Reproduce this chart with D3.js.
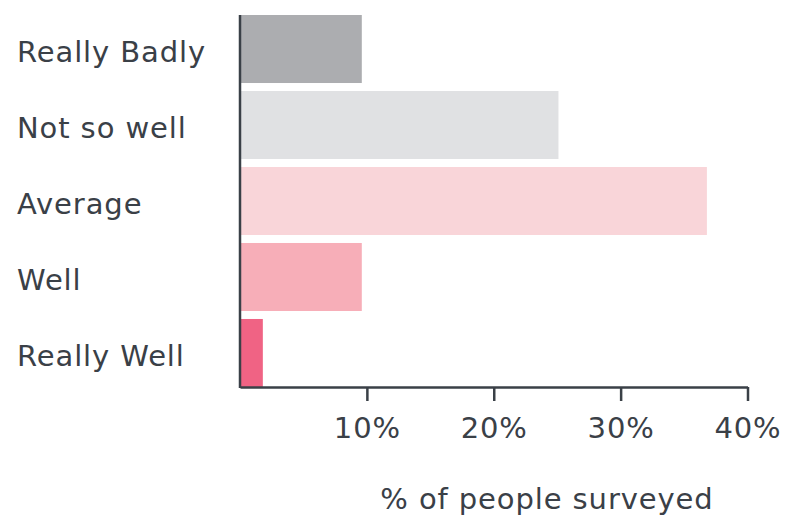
<!DOCTYPE html>
<html lang="en">
<head>
<meta charset="UTF-8">
<title></title>
<script src="https://d3js.org/d3.v7.min.js"></script>
<style>
	body{margin:0;background:#fff;}
	text{font-family:"DejaVu Sans", sans-serif;fill:#3a4047;letter-spacing:0.9px;}
</style>
</head>
<body>
<script>
	let categories=["Really Badly","Not so well","Average","Well","Really Well"];
	let values=[9.6,25.1,36.8,9.6,1.8];
	let colors=["#acadb0","#e0e1e3","#f9d5d9","#f7aeb8","#f06384"];
	let tickValues=[10,20,30,40];
	let axisTitle="% of people surveyed";

	let W=785,H=525;
	let x0=240,x1=747.5,yTop=15,yBot=387;
	let fs=29;
	var svg=d3.select("body").append("svg").attr("width",W).attr("height",H);

	let x=d3.scaleLinear().domain([0,40]).range([x0,x1]);
	let y=d3.scaleBand().domain(categories).range([yTop,yBot]).paddingInner(0.105).paddingOuter(0);

	svg.selectAll(".bar").data(categories).enter()
		.append("rect")
		.attr("class","bar")
		.attr("x",x(0))
		.attr("y",function(d){return y(d);})
		.attr("width",function(d,i){return x(values[i])-x(0);})
		.attr("height",y.bandwidth())
		.style("fill",function(d,i){return colors[i];});

	// category labels, left aligned
	svg.selectAll(".cat").data(categories).enter()
		.append("text")
		.attr("class","cat")
		.attr("x",17)
		.attr("y",function(d){return y(d)+y.bandwidth()/2;})
		.attr("dy","0.46em")
		.attr("font-size",fs+"px")
		.text(function(d){return d;});

	let xAxis=d3.axisBottom(x).tickValues(tickValues).tickSize(14).tickSizeOuter(0).tickPadding(16)
		.tickFormat(function(d){return d+"%";});
	let gx=svg.append("g").attr("transform","translate(0,"+yBot+")").call(xAxis);
	gx.select(".domain").style("stroke","#3a4047").style("stroke-width",2.5);
	gx.selectAll(".tick line").style("stroke","#3a4047").style("stroke-width",2.5);
	gx.selectAll(".tick text").attr("font-size",fs+"px").attr("font-family",null).style("fill","#3a4047");

	svg.append("line")
		.attr("x1",x0).attr("x2",x0)
		.attr("y1",yTop).attr("y2",yBot+1)
		.style("stroke","#3a4047").style("stroke-width",2.5);

	svg.append("text")
		.attr("x",547)
		.attr("y",509)
		.attr("text-anchor","middle")
		.attr("font-size",fs+"px")
		.text(axisTitle);
</script>
</body>
</html>
